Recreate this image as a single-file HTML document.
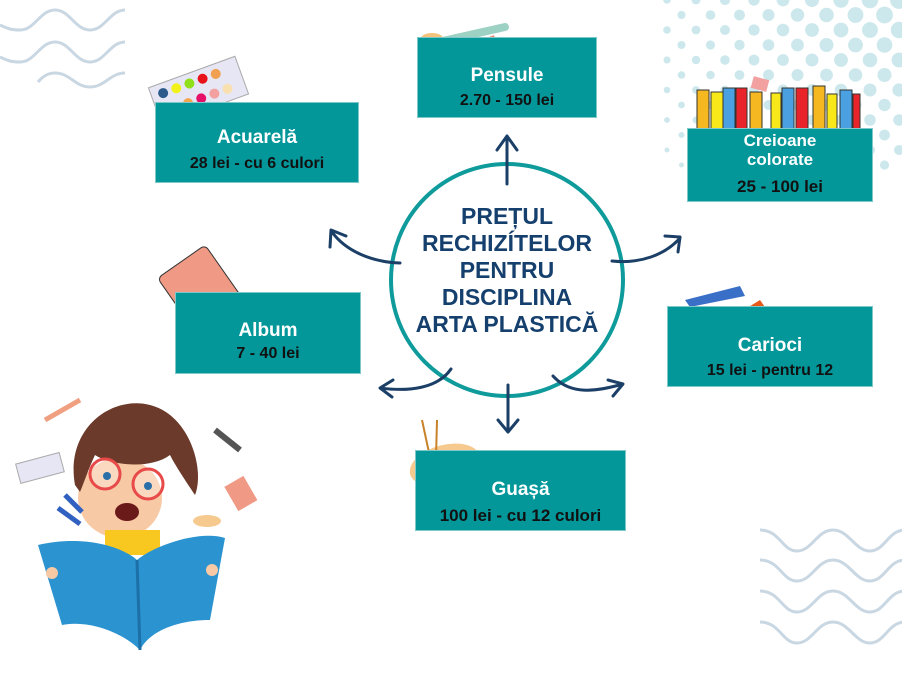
<!DOCTYPE html>
<html><head><meta charset="utf-8"><style>
html,body{margin:0;padding:0;background:#fff;width:902px;height:679px;overflow:hidden;font-family:"Liberation Sans",sans-serif}
svg{position:absolute;left:0;top:0}
.box{position:absolute;background:#03979a;box-shadow:0 0 0 1px #7fc8ca;text-align:center;font-weight:bold}
.t{color:#fff;font-size:19px;position:absolute;left:0;right:0}
.p{color:#111;font-size:16px;position:absolute;left:0;right:0}
</style></head><body>
<svg width="902" height="679" viewBox="0 0 902 679" id="s">
<g id="dots" fill="#cde8ec"></g>
<g fill="none" stroke="#c9d7e3" stroke-width="3">
<path d="M0 25 c8 4 12 5 20 5 c15 0 20 -20 35 -20 s20 20 35 20 s20 -20 35 -20"/>
<path d="M0 57 c8 4 12 5 20 5 c15 0 20 -20 35 -20 s20 20 35 20 s20 -20 35 -20"/>
<path d="M38 82 c5 -6 10 -9 17 -9 c15 0 20 14 35 14 c15 0 20 -14 35 -14"/>
<path d="M760 530 c20 0 22 21 37 21 s20 -21 36 -21 s22 21 37 21 s18 -21 35 -21"/>
<path d="M760 560 c20 0 22 21 37 21 s20 -21 36 -21 s22 21 37 21 s18 -21 35 -21"/>
<path d="M760 591 c20 0 22 21 37 21 s20 -21 36 -21 s22 21 37 21 s18 -21 35 -21"/>
<path d="M760 622 c20 0 22 21 37 21 s20 -21 36 -21 s22 21 37 21 s18 -21 35 -21"/>
</g>
<circle cx="507" cy="280" r="116" fill="#fff" stroke="#0f9b9b" stroke-width="4"/>
<g fill="none" stroke="#1b3f66" stroke-width="3" stroke-linecap="round" stroke-linejoin="round">
<path d="M507 184 V136 M497 150 L507 136 L517 150"/>
<path d="M400 263 C370 262 345 250 332 232 M330 247 L331 230 L346 236"/>
<path d="M612 261 C640 264 665 255 680 238 M665 236 L680 237 L678 252"/>
<path d="M451 369 C438 388 410 392 380 388 M393 380 L380 388 L392 397"/>
<path d="M553 376 C570 395 595 392 623 384 M608 380 L623 384 L613 396"/>
<path d="M508 385 V432 M498 420 L508 432 L518 420"/>
</g>
<g transform="rotate(-20 195 90)"><rect x="152" y="72" width="92" height="40" fill="#e6e6f5" stroke="#aaa"/>
<circle cx="164" cy="82" r="5" fill="#2c5a8a"/><circle cx="178" cy="82" r="5" fill="#f2f21a"/><circle cx="192" cy="82" r="5" fill="#8fe01a"/><circle cx="206" cy="82" r="5" fill="#e8121a"/><circle cx="220" cy="82" r="5" fill="#f0a050"/>
<circle cx="170" cy="100" r="5" fill="#2e8a5a"/><circle cx="184" cy="100" r="5" fill="#f3a64d"/><circle cx="198" cy="100" r="5" fill="#e6106a"/><circle cx="212" cy="100" r="5" fill="#f2a0a0"/><circle cx="226" cy="100" r="5" fill="#f8e0b0"/></g>
<path d="M425 45 L505 27" stroke="#9cd1c3" stroke-width="8" stroke-linecap="round"/>
<ellipse cx="432" cy="40" rx="12" ry="7" fill="#f4c27a"/>
<path d="M440 58 L495 38" stroke="#f08a70" stroke-width="6"/>
<ellipse cx="437" cy="58" rx="8" ry="6" fill="#fde1d0"/>
<g stroke="#333" stroke-width="1">
<rect x="697" y="90" width="12" height="40" fill="#f5b820"/><rect x="711" y="92" width="12" height="38" fill="#f8e81a"/>
<rect x="723" y="88" width="12" height="42" fill="#4aa0e0"/><rect x="736" y="88" width="11" height="42" fill="#e8242a"/>
<rect x="750" y="92" width="12" height="38" fill="#f5b820"/><rect x="771" y="93" width="10" height="37" fill="#f8e81a"/>
<rect x="782" y="88" width="12" height="42" fill="#4aa0e0"/><rect x="796" y="88" width="12" height="42" fill="#e8242a"/>
<rect x="813" y="86" width="12" height="44" fill="#f5b820"/><rect x="827" y="94" width="10" height="36" fill="#f8e81a"/>
<rect x="840" y="90" width="12" height="40" fill="#4aa0e0"/><rect x="853" y="94" width="7" height="36" fill="#e8242a"/>
</g>
<rect x="752" y="78" width="16" height="12" fill="#f2a0a0" transform="rotate(15 760 84)"/>
<path d="M685 300 L740 286 L745 296 L690 307 Z" fill="#3a6fc8"/>
<path d="M708 332 L760 300 L767 310 L714 338 Z" fill="#e85a1a"/>
<g transform="rotate(-35 200 290)"><rect x="172" y="256" width="58" height="72" rx="5" fill="#f09a85" stroke="#333"/></g>
<path d="M213 315 C230 305 240 300 250 304" stroke="#e06060" stroke-width="2" fill="none"/>
<ellipse cx="445" cy="465" rx="36" ry="20" fill="#f6c98e" transform="rotate(-15 445 465)"/>
<path d="M422 420 L437 490 M437 420 L435 495" stroke="#c8822a" stroke-width="2"/>
<!-- kid -->
<ellipse cx="120" cy="498" rx="42" ry="40" fill="#f8c9a5"/>
<path d="M75 485 C65 430 110 395 150 405 C190 415 205 470 195 495 C185 480 175 465 170 455 C150 470 110 465 95 455 C88 470 85 480 80 492 Z" fill="#6b3a2a"/>
<circle cx="105" cy="474" r="15" fill="#fff" fill-opacity="0.3" stroke="#e84a4a" stroke-width="3"/>
<circle cx="148" cy="484" r="15" fill="#fff" fill-opacity="0.3" stroke="#e84a4a" stroke-width="3"/>
<circle cx="107" cy="476" r="4" fill="#2a6fa8"/><circle cx="148" cy="486" r="4" fill="#2a6fa8"/>
<ellipse cx="127" cy="512" rx="12" ry="9" fill="#6b1a1a"/>
<rect x="105" y="530" width="55" height="25" fill="#f9c820"/>
<path d="M38 545 C80 535 120 545 137 560 C155 545 200 530 225 538 L210 620 C180 620 150 630 140 650 C120 630 85 620 62 625 Z" fill="#2a93d0"/>
<path d="M137 560 L140 650" stroke="#1d6fa8" stroke-width="3"/>
<circle cx="52" cy="573" r="6" fill="#f8c9a5"/><circle cx="212" cy="570" r="6" fill="#f8c9a5"/>
<path d="M45 420 L80 400" stroke="#f0a080" stroke-width="5"/>
<g transform="rotate(-15 40 470)"><rect x="18" y="458" width="45" height="20" fill="#e6e6f5" stroke="#aaa"/></g>
<path d="M65 495 L82 512 M58 508 L80 524" stroke="#3060c0" stroke-width="5"/>
<path d="M215 430 L240 450" stroke="#555" stroke-width="6"/>
<rect x="230" y="480" width="22" height="28" fill="#f09a85" transform="rotate(-30 240 494)"/>
<ellipse cx="207" cy="521" rx="14" ry="6" fill="#f6c98e"/>
</svg>
<div class="box" style="left:156px;top:103px;width:202px;height:79px"><div class="t" style="top:24px">Acuarelă</div><div class="p" style="top:52px">28 lei - cu 6 culori</div></div>
<div class="box" style="left:418px;top:38px;width:178px;height:79px"><div class="t" style="top:27px">Pensule</div><div class="p" style="top:54px">2.70 - 150 lei</div></div>
<div class="box" style="left:688px;top:129px;width:184px;height:72px"><div class="t" style="top:2px;font-size:17px;line-height:19px">Creioane<br>colorate</div><div class="p" style="top:48px;font-size:17px">25 - 100 lei</div></div>
<div class="box" style="left:176px;top:293px;width:184px;height:80px"><div class="t" style="top:27px">Album</div><div class="p" style="top:52px">7 - 40 lei</div></div>
<div class="box" style="left:668px;top:307px;width:204px;height:79px"><div class="t" style="top:28px">Carioci</div><div class="p" style="top:55px">15 lei - pentru 12</div></div>
<div class="box" style="left:416px;top:451px;width:209px;height:79px"><div class="t" style="top:28px">Guașă</div><div class="p" style="top:55px;font-size:17px">100 lei - cu 12 culori</div></div>
<div style="position:absolute;left:390px;top:203px;width:234px;text-align:center;color:#15406e;font-weight:bold;font-size:23px;line-height:27px;font-family:'Liberation Sans',sans-serif">PREȚUL<br>RECHIZÍTELOR<br>PENTRU<br>DISCIPLINA<br>ARTA PLASTICĂ</div>
<script>
var g=document.getElementById('dots'),h='';
for(var r=0;r<12;r++){var y=r*15;for(var c=0;c<10;c++){var x=667+c*29+(r%2?14.5:0);if(x>905)continue;var d=Math.hypot(902-x,y*1.2);var rad=Math.max(0,9-d*0.022);if(rad>1.2)h+='<circle cx="'+x+'" cy="'+y+'" r="'+rad.toFixed(1)+'"/>';}}
g.innerHTML=h;
</script>
</body></html>
